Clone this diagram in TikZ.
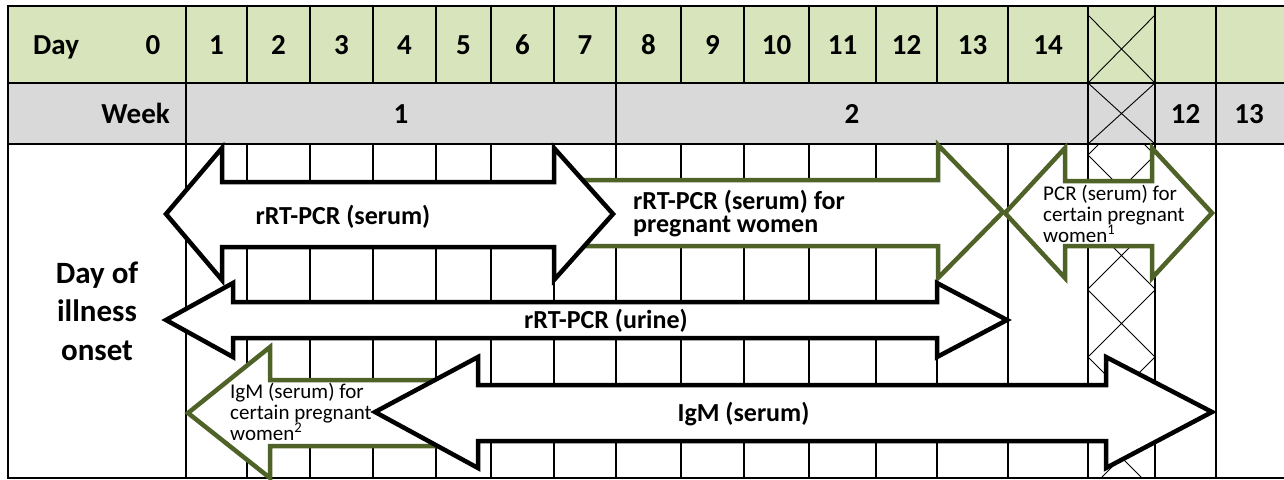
\documentclass[tikz,border=0pt]{standalone}
\usepackage{fontspec}
\setmainfont{Carlito}
\definecolor{daygreen}{RGB}{216,228,188}
\definecolor{weekgray}{RGB}{217,217,217}
\definecolor{olivegreen}{RGB}{79,98,40}
\begin{document}
\begin{tikzpicture}[x=1pt,y=-1pt,
  gridline/.style={line width=1.9pt, black},
  xline/.style={line width=0.9pt, black},
  blackarrow/.style={draw=black, fill=white, line width=4.5pt, line join=miter},
  greenarrow/.style={draw=olivegreen, fill=white, line width=4.5pt, line join=miter},
  hdr/.style={font=\fontsize{29}{34}\selectfont\bfseries, inner sep=0pt},
  sidelbl/.style={font=\fontsize{31}{38.5}\selectfont\bfseries, inner sep=0pt, align=center},
  lbl/.style={font=\fontsize{26}{23}\selectfont\bfseries, inner sep=0pt, align=left},
  smalltxt/.style={font=\fontsize{21}{21}\selectfont, inner sep=0pt, align=left},
]
\useasboundingbox (0,0) rectangle (1284,479);
% header fills
\fill[daygreen] (8,6) rectangle (1284,83);
\fill[weekgray] (8,83) rectangle (1284,144);
% crossed-out column
\draw[xline] (1088,15) -- (1155,83) (1155,15) -- (1088,83);
\draw[xline] (1088,83) -- (1155,144) (1155,83) -- (1088,144);
\begin{scope}
  \clip (1088,144) rectangle (1155,478);
  \foreach \y in {88,155,222,290,357,424}
    \draw[xline] (1088,\y) -- (1155,\y+67) (1155,\y) -- (1088,\y+67);
\end{scope}
% grid
\foreach \x in {186,247,310,373,436,491,554,616,681,744,809,876,937,1008,1088,1155,1216}{
  \draw[gridline] (\x,6) -- (\x,83);
  \draw[gridline] (\x,144) -- (\x,478);
}
\foreach \x in {186,616,1088,1155,1216}
  \draw[gridline] (\x,83) -- (\x,144);
\draw[gridline] (1284,6) -- (8,6) -- (8,478) -- (1284,478);
\draw[gridline] (8,83) -- (1284,83);
\draw[gridline] (8,144) -- (1284,144);
% header texts
\node[hdr, anchor=base west] (dayhdr) at (33,54) {Day};
\node[hdr, anchor=base] (d0) at (153,54) {0};
\foreach \n/\x in {1/216.5,2/278.5,3/341.5,4/404.5,5/463.5,6/522.5,7/585,8/648.5,9/712.5,10/776.5,11/842.5,12/906.5,13/972.5,14/1048}
  \node[hdr, anchor=base] (d\n) at (\x,54) {\n};
\node[hdr, anchor=base east] (weekhdr) at (170,123) {Week};
\node[hdr, anchor=base] (w1) at (401,123) {1};
\node[hdr, anchor=base] (w2) at (852,123) {2};
\node[hdr, anchor=base] (w12) at (1185.5,123) {12};
\node[hdr, anchor=base] (w13) at (1249,123) {13};
% side label (base = last line)
\node[sidelbl, anchor=base] (onset) at (97,360) {Day of\\illness\\onset};
% arrows
\draw[greenarrow] (560,180) -- (938,180) -- (938,145) -- (1003,212) -- (938,278) -- (938,246) -- (560,246) -- cycle;
\draw[blackarrow] (166,214) -- (222,148) -- (222,182) -- (554,182) -- (554,148) -- (613,214) -- (554,280) -- (554,247) -- (222,247) -- (222,280) -- cycle;
\draw[greenarrow] (1005,213) -- (1065,148) -- (1065,181) -- (1152,181) -- (1152,148) -- (1212,213) -- (1152,278) -- (1152,246) -- (1065,246) -- (1065,278) -- cycle;
\draw[blackarrow] (166,320) -- (233,283) -- (233,302) -- (937,302) -- (937,283) -- (1007,320) -- (937,357) -- (937,338) -- (233,338) -- (233,357) -- cycle;
\draw[greenarrow] (188,413) -- (270,347) -- (270,380) -- (460,380) -- (460,446) -- (270,446) -- (270,478) -- cycle;
\draw[blackarrow] (375,412) -- (478,357) -- (478,385) -- (1106,385) -- (1106,357) -- (1212,412) -- (1106,468) -- (1106,441) -- (478,441) -- (478,468) -- cycle;
% arrow labels (multi-line nodes: base = last line)
\node[lbl, anchor=base] (serum) at (343,224) {rRT-PCR (serum)};
\node[lbl, anchor=base west] (pregnant) at (633,232) {rRT-PCR (serum) for\\pregnant women};
\node[smalltxt, anchor=base west] (pcrcertain) at (1043,242) {PCR (serum) for\\certain pregnant\\women\textsuperscript{1}};
\node[lbl, anchor=base] (urine) at (606,328) {rRT-PCR (urine)};
\node[smalltxt, anchor=base west] (igmcertain) at (230,440) {IgM (serum) for\\certain pregnant\\women\textsuperscript{2}};
\node[lbl, anchor=base] (igm) at (743.5,421) {IgM (serum)};
\end{tikzpicture}
\end{document}
